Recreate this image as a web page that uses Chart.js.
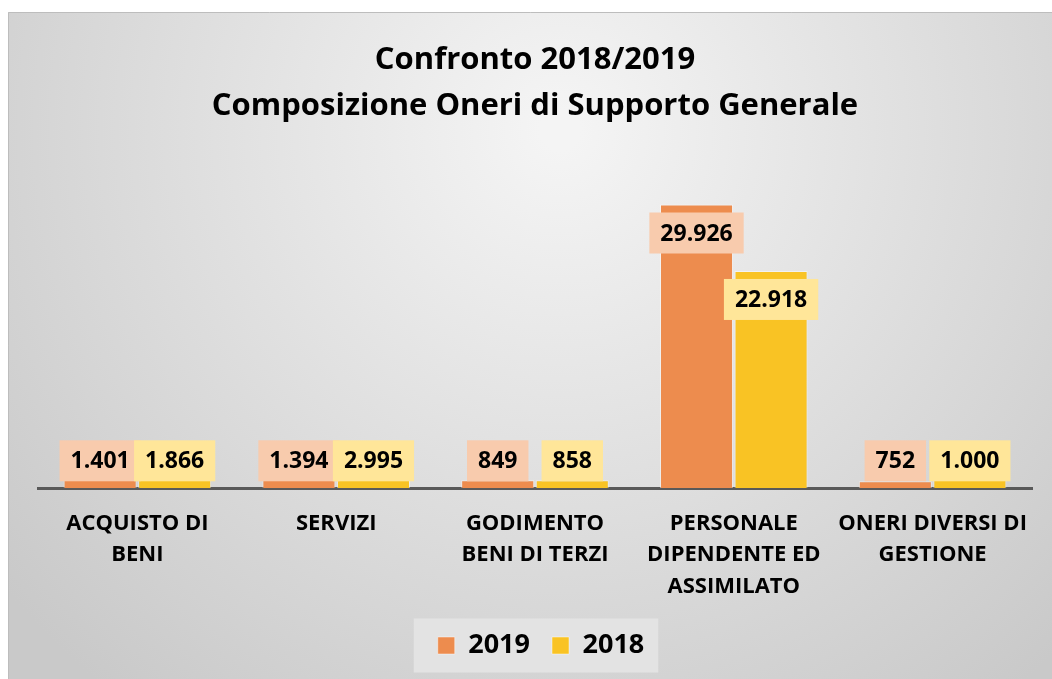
<!DOCTYPE html>
<html>
<head>
<meta charset="utf-8">
<script src="https://cdn.jsdelivr.net/npm/chart.js@4/dist/chart.umd.min.js"></script>
<style>
  html, body { margin: 0; padding: 0; background: #fff; }
  #wrap { width: 1052px; height: 679px; position: relative; }
</style>
</head>
<body>
<div id="wrap"><canvas id="oneriChart" width="1052" height="679"></canvas></div>
<script>
// categorie e valori (migliaia)
var categorie = [
  ['ACQUISTO DI', 'BENI'],
  ['SERVIZI'],
  ['GODIMENTO', 'BENI DI TERZI'],
  ['PERSONALE', 'DIPENDENTE ED', 'ASSIMILATO'],
  ['ONERI DIVERSI DI', 'GESTIONE']
];
var valori2019 = [1401, 1394, 849, 29926, 752];
var valori2018 = [1866, 2995, 858, 22918, 1000];
var titolo = ['Confronto 2018/2019', 'Composizione Oneri di Supporto Generale'];

var FONT = '"Open Sans", Lato, sans-serif';

function formatta(v) {
  return String(v).replace(/\B(?=(\d{3})+(?!\d))/g, '.');
}

// sfondo grigio sfumato
var sfondo = {
  id: 'sfondo',
  afterLayout: function(chart) {
    // legenda leggermente spostata a destra come nell'originale
    if (chart.legend) {
      chart.legend.left += 6;
      chart.legend.right += 6;
    }
  },
  beforeDraw: function(chart) {
    var c = chart.ctx;
    c.save();
    c.fillStyle = '#ffffff';
    c.fillRect(0, 0, chart.width, chart.height);
    var g = c.createRadialGradient(560, 130, 20, 560, 130, 720);
    g.addColorStop(0, '#f4f4f4');
    g.addColorStop(1, '#c9c9c9');
    c.fillStyle = g;
    c.fillRect(8, 12, chart.width - 8, chart.height - 12);
    c.strokeStyle = '#bdbdbd';
    c.lineWidth = 1;
    c.beginPath();
    c.moveTo(8.5, chart.height);
    c.lineTo(8.5, 12.5);
    c.lineTo(chart.width, 12.5);
    c.stroke();
    // riquadro legenda
    var lg = chart.legend;
    if (lg && lg.legendHitBoxes && lg.legendHitBoxes.length) {
      var hb = lg.legendHitBoxes;
      var x0 = hb[0].left - 24;
      var x1 = hb[hb.length - 1].left + hb[hb.length - 1].width + 14;
      var yc = hb[0].top + hb[0].height / 2;
      c.fillStyle = '#e3e3e3';
      c.fillRect(x0, yc - 27, x1 - x0, 54);
    }
    c.restore();
  }
};

// etichette dati con riquadro colorato
var etichette = {
  id: 'etichette',
  afterDatasetsDraw: function(chart) {
    var c = chart.ctx;
    var colori = ['#f8cbad', '#ffe699'];
    c.save();
    c.font = 'bold 23px ' + FONT;
    c.textAlign = 'center';
    c.textBaseline = 'middle';
    chart.data.datasets.forEach(function(ds, i) {
      var meta = chart.getDatasetMeta(i);
      meta.data.forEach(function(bar, j) {
        var txt = formatta(ds.data[j]);
        var w = c.measureText(txt).width + 22;
        var h = 41;
        var top = Math.min(bar.y + 8, bar.base - 7 - h);
        c.fillStyle = colori[i];
        c.fillRect(bar.x - w / 2, top, w, h);
        c.fillStyle = '#000000';
        c.fillText(txt, bar.x, top + h / 2 + 1);
      });
    });
    c.restore();
  }
};

var ctx = document.getElementById('oneriChart').getContext('2d');
var oneriChart = new Chart(ctx, {
  type: 'bar',
  data: {
    labels: categorie,
    datasets: [{
      label: '2019',
      data: valori2019,
      backgroundColor: '#ed8c4e',
      borderColor: 'rgba(255,255,255,0.45)',
      borderWidth: 1
    }, {
      label: '2018',
      data: valori2018,
      backgroundColor: '#f9c324',
      borderColor: 'rgba(255,255,255,0.45)',
      borderWidth: 1
    }]
  },
  options: {
    responsive: false,
    animation: false,
    devicePixelRatio: 1,
    layout: { padding: { left: 38, right: 20, top: 12, bottom: 10 } },
    datasets: {
      bar: { categoryPercentage: 0.75, barPercentage: 0.98 }
    },
    scales: {
      x: {
        grid: { display: false, drawTicks: false },
        border: { display: true, color: '#595959', width: 3 },
        ticks: {
          color: '#000000',
          font: { family: FONT, size: 22, weight: 'bold', lineHeight: 1.45 },
          padding: 19,
          maxRotation: 0,
          autoSkip: false
        },
        afterFit: function(scale) { scale.height -= 12; }
      },
      y: {
        display: false,
        min: 0,
        max: 34750
      }
    },
    plugins: {
      title: {
        display: true,
        text: titolo,
        color: '#000000',
        font: { family: FONT, size: 31, weight: 'bold', lineHeight: 1.48 },
        padding: { top: 25, bottom: 30 }
      },
      legend: {
        position: 'bottom',
        labels: {
          color: '#000000',
          font: { family: FONT, size: 27, weight: 'bold' },
          boxWidth: 17,
          boxHeight: 17,
          padding: 22
        }
      },
      tooltip: { enabled: false }
    }
  },
  plugins: [sfondo, etichette]
});
</script>
</body>
</html>
